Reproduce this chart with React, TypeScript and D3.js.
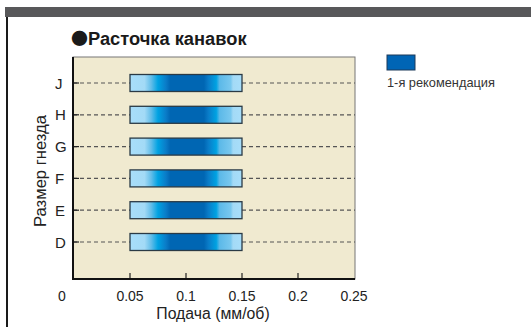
import React from "react";
import * as d3 from "d3";

const sizes = ["J", "H", "G", "F", "E", "D"];
const feedMin = [0.05, 0.05, 0.05, 0.05, 0.05, 0.05];
const feedMax = [0.15, 0.15, 0.15, 0.15, 0.15, 0.15];
const xTicks = [0, 0.05, 0.1, 0.15, 0.2, 0.25];
const innerTicks = [0.05, 0.1, 0.15, 0.2];
const titleBullet = "●";
const title = "Расточка канавок";
const xTitle = "Подача (мм/об)";
const yTitle = "Размер гнезда";
const legendLabel = "1-я рекомендация";

const gradStops: [number, string][] = [
  [0, "#a8defa"],
  [0.13, "#a3daf6"],
  [0.19, "#62bde9"],
  [0.25, "#00a2e2"],
  [0.32, "#0a7cc8"],
  [0.36, "#0066b3"],
  [0.66, "#0066b3"],
  [0.7, "#0a7cc8"],
  [0.77, "#00a2e2"],
  [0.8, "#5cb9e8"],
  [0.9, "#79c8ef"],
  [0.92, "#a3daf6"],
  [1, "#a8defa"],
];

export default function App() {
  const W = 531, H = 327;
  const left = 73, right = 355, top = 57, bottom = 279;
  const x = d3.scaleLinear().domain([0, 0.25]).range([74, 354]);
  const y = d3.scalePoint<string>().domain(sizes).range([83, 242]);
  const bh = 17;
  const font = "'Liberation Sans', Arial, sans-serif";
  return (
    <svg width={W} height={H} style={{ position: "absolute", left: 0, top: 0 }} fontFamily={font}>
      <defs>
        <linearGradient id="bargrad" x1="0" x2="1" y1="0" y2="0">
          {gradStops.map(([o, c], i) => (
            <stop key={i} offset={o} stopColor={c} />
          ))}
        </linearGradient>
      </defs>
      <rect x={0} y={0} width={W} height={H} fill="#fff" />
      <rect x={5} y={7} width={W - 5} height={10} fill="#58585a" />
      <line x1={7} x2={7} y1={17} y2={H} stroke="#1a1a1a" strokeWidth={2} />
      <text x={71} y={45} fontSize={18.3} fontWeight="bold" fill="#1a1a1a">
        <tspan fontFamily="'Noto Sans CJK JP', 'DejaVu Sans', sans-serif" fontWeight="normal" fontSize={17}>{titleBullet}</tspan>
        <tspan>{title}</tspan>
      </text>
      <rect x={left} y={top} width={right - left} height={bottom - top} fill="#f0ead0" stroke="#777" strokeWidth={1} />
      {sizes.map((s, i) => {
        const yy = y(s)!;
        return (
          <g key={s}>
            <line x1={left} x2={x(feedMin[i])} y1={yy} y2={yy} stroke="#555" strokeWidth={1.2} strokeDasharray="4,3" />
            <line x1={x(feedMax[i])} x2={right} y1={yy} y2={yy} stroke="#555" strokeWidth={1.2} strokeDasharray="4,3" />
            <line x1={left} x2={left + 6} y1={yy} y2={yy} stroke="#222" strokeWidth={1.2} />
            <rect x={x(feedMin[i])} y={yy - bh / 2} width={x(feedMax[i]) - x(feedMin[i])} height={bh} fill="url(#bargrad)" stroke="#2a3a45" strokeWidth={1.3} />
            <text x={55} y={yy + 5.5} fontSize={15} textAnchor="start" fill="#222">{s}</text>
          </g>
        );
      })}
      {innerTicks.map((t) => (
        <line key={t} x1={x(t)} x2={x(t)} y1={bottom} y2={bottom - 6} stroke="#222" strokeWidth={1.2} />
      ))}
      <line x1={left} x2={left} y1={top} y2={bottom + 1} stroke="#111" strokeWidth={2} />
      <line x1={left - 1} x2={right} y1={bottom} y2={bottom} stroke="#111" strokeWidth={2} />
      {xTicks.map((t) => (
        <text key={t} x={t === 0 ? x(t) - 12 : x(t)} y={300.5} fontSize={14} textAnchor="middle" fill="#222">{t}</text>
      ))}
      <text x={213} y={319} fontSize={15.8} textAnchor="middle" fill="#222">{xTitle}</text>
      <text transform={`translate(46,171) rotate(-90)`} fontSize={16.6} textAnchor="middle" fill="#222">{yTitle}</text>
      <rect x={387} y={55} width={28} height={15} fill="#0065b5" stroke="#1d3b5a" strokeWidth={1} />
      <text x={387} y={87} fontSize={12.8} fill="#333">{legendLabel}</text>
    </svg>
  );
}
